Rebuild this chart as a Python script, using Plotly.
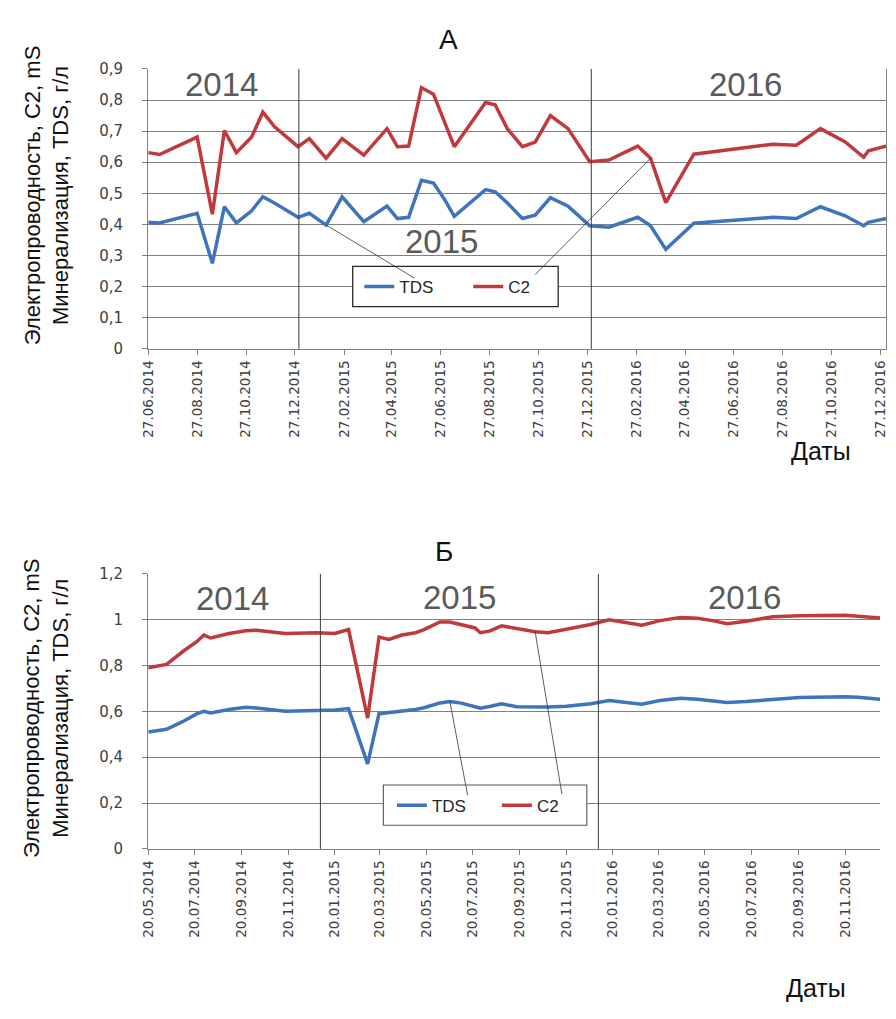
import plotly.graph_objects as go

# --- Panel А: 27.06.2014 - 2016 ---
dates_a = ["2014-06-27", "2014-07-11", "2014-08-27", "2014-09-15", "2014-09-30", "2014-10-15",
           "2014-11-03", "2014-11-17", "2014-12-02", "2014-12-31", "2015-01-14", "2015-02-04",
           "2015-02-24", "2015-03-23", "2015-04-21", "2015-05-04", "2015-05-18", "2015-06-03",
           "2015-06-18", "2015-07-02", "2015-07-14", "2015-08-22", "2015-09-03", "2015-09-18",
           "2015-10-07", "2015-10-23", "2015-11-11", "2015-12-03", "2015-12-30", "2016-01-23",
           "2016-02-28", "2016-03-15", "2016-04-03", "2016-05-08", "2016-08-15", "2016-09-13",
           "2016-10-13", "2016-11-13", "2016-12-06", "2016-12-12", "2017-01-03"]
tds_a = [0.407, 0.405, 0.436, 0.275, 0.457, 0.405, 0.444, 0.489, 0.468, 0.423, 0.436, 0.398,
         0.489, 0.409, 0.459, 0.419, 0.423, 0.542, 0.533, 0.480, 0.426, 0.512, 0.505, 0.470,
         0.419, 0.430, 0.486, 0.459, 0.396, 0.391, 0.423, 0.396, 0.320, 0.404, 0.423, 0.419,
         0.457, 0.428, 0.396, 0.407, 0.419]
c2_a = [0.631, 0.625, 0.681, 0.433, 0.702, 0.631, 0.681, 0.761, 0.713, 0.650, 0.676, 0.613,
        0.676, 0.623, 0.708, 0.650, 0.652, 0.840, 0.819, 0.729, 0.650, 0.792, 0.785, 0.708,
        0.650, 0.665, 0.750, 0.708, 0.602, 0.607, 0.652, 0.613, 0.470, 0.626, 0.658, 0.655,
        0.708, 0.665, 0.616, 0.637, 0.652]
ticks_a = ["27.06.2014", "27.08.2014", "27.10.2014", "27.12.2014", "27.02.2015", "27.04.2015",
           "27.06.2015", "27.08.2015", "27.10.2015", "27.12.2015", "27.02.2016", "27.04.2016",
           "27.06.2016", "27.08.2016", "27.10.2016", "27.12.2016"]

# --- Panel Б: 20.05.2014 - 2016 ---
dates_b = ["2014-05-20", "2014-06-13", "2014-07-04", "2014-07-23", "2014-08-01", "2014-08-10",
           "2014-09-03", "2014-09-25", "2014-10-09", "2014-11-16", "2014-12-27", "2015-01-20",
           "2015-02-07", "2015-03-04", "2015-03-19", "2015-04-01", "2015-04-18", "2015-05-06",
           "2015-05-17", "2015-06-07", "2015-06-20", "2015-07-05", "2015-07-23", "2015-07-30",
           "2015-08-11", "2015-08-27", "2015-09-16", "2015-10-10", "2015-10-27", "2015-11-20",
           "2015-12-22", "2016-01-15", "2016-02-03", "2016-02-27", "2016-03-22", "2016-04-18",
           "2016-05-10", "2016-05-30", "2016-06-18", "2016-07-13", "2016-08-17", "2016-09-21",
           "2016-11-20", "2016-12-07", "2017-01-05"]
tds_b = [0.510, 0.522, 0.555, 0.590, 0.600, 0.593, 0.608, 0.618, 0.615, 0.601, 0.604, 0.606,
         0.612, 0.371, 0.590, 0.594, 0.600, 0.608, 0.616, 0.637, 0.643, 0.636, 0.620, 0.614,
         0.621, 0.633, 0.620, 0.619, 0.619, 0.622, 0.633, 0.647, 0.639, 0.631, 0.647, 0.657,
         0.653, 0.645, 0.639, 0.643, 0.653, 0.661, 0.664, 0.662, 0.653]
c2_b = [0.790, 0.805, 0.860, 0.905, 0.933, 0.920, 0.940, 0.952, 0.954, 0.940, 0.943, 0.940,
        0.957, 0.571, 0.924, 0.914, 0.933, 0.943, 0.957, 0.990, 0.990, 0.979, 0.964, 0.943,
        0.950, 0.973, 0.960, 0.947, 0.943, 0.957, 0.979, 1.000, 0.990, 0.976, 0.996, 1.010,
        1.006, 0.996, 0.982, 0.993, 1.013, 1.017, 1.019, 1.014, 1.007]
ticks_b = ["20.05.2014", "20.07.2014", "20.09.2014", "20.11.2014", "20.01.2015", "20.03.2015",
           "20.05.2015", "20.07.2015", "20.09.2015", "20.11.2015", "20.01.2016", "20.03.2016",
           "20.05.2016", "20.07.2016", "20.09.2016", "20.11.2016"]

years = ["2014", "2015", "2016"]
year_bounds = ["2015-01-01", "2016-01-01"]
series_names = ["TDS", "C2"]
panel_titles = ["А", "Б"]
y_title = "Электропроводность, С2, mS<br>Минерализация, TDS, г/л"
x_title = "Даты"

BLUE = "#3E74BC"
RED = "#C03A3D"
GRID = "#808080"
TXT = "#404040"
YEAR = "#5a5a5a"
W, H = 896, 1019


def px(x):
    return x / W


def py(y):
    return 1 - y / H


def iso(d):
    dd, mm, yy = d.split(".")
    return f"{yy}-{mm}-{dd}"


fig = go.Figure()

fig.add_trace(go.Scatter(x=dates_a, y=tds_a, name=series_names[0], mode="lines",
                         line=dict(color=BLUE, width=3.5), xaxis="x", yaxis="y", legend="legend"))
fig.add_trace(go.Scatter(x=dates_a, y=c2_a, name=series_names[1], mode="lines",
                         line=dict(color=RED, width=3.5), xaxis="x", yaxis="y", legend="legend"))
fig.add_trace(go.Scatter(x=dates_b, y=tds_b, name=series_names[0], mode="lines",
                         line=dict(color=BLUE, width=3.5), xaxis="x2", yaxis="y2", legend="legend2"))
fig.add_trace(go.Scatter(x=dates_b, y=c2_b, name=series_names[1], mode="lines",
                         line=dict(color=RED, width=3.5), xaxis="x2", yaxis="y2", legend="legend2"))

xtick_font = dict(family="DejaVu Sans", size=13.5, color=TXT)
ytick_font = dict(family="DejaVu Sans", size=15, color=TXT)
common_x = dict(type="date", tickmode="array", tickangle=-90,
                showgrid=False, showline=True, linecolor=GRID, linewidth=1.3,
                ticks="outside", ticklen=5, tickcolor=GRID, tickfont=xtick_font, zeroline=False)
common_y = dict(showgrid=True, gridcolor=GRID, gridwidth=1.3, showline=True, linecolor=GRID,
                linewidth=1.3, ticks="outside", ticklen=5, tickcolor=GRID, tickfont=ytick_font,
                ticklabelstandoff=16, zeroline=False)

legend_font = dict(family="Liberation Sans Narrow, Liberation Sans", size=17, color="#262626")

fig.update_layout(
    width=W, height=H,
    margin=dict(l=0, r=0, t=0, b=0),
    paper_bgcolor="white", plot_bgcolor="white",
    separators=", ",
    font=dict(family="Liberation Sans", color="#222"),
    xaxis=dict(common_x, domain=[px(141), px(888)], anchor="y",
               range=[dates_a[0], dates_a[-1]],
               tickvals=[iso(t) for t in ticks_a], ticktext=ticks_a),
    yaxis=dict(common_y, domain=[py(346), py(61)], anchor="x", range=[0, 0.9], dtick=0.1,
               mirror=True),
    xaxis2=dict(common_x, domain=[px(141), px(882)], anchor="y2",
                range=[dates_b[0], dates_b[-1]],
                tickvals=[iso(t) for t in ticks_b], ticktext=ticks_b),
    yaxis2=dict(common_y, domain=[py(855), py(575)], anchor="x2", range=[0, 1.2], dtick=0.2),
    legend=dict(orientation="h", x=px(465), y=py(283), xanchor="center", yanchor="middle",
                bgcolor="rgba(0,0,0,0)", borderwidth=0, entrywidth=64, font=legend_font),
    legend2=dict(orientation="h", x=px(494), y=py(811), xanchor="center", yanchor="middle",
                 bgcolor="rgba(0,0,0,0)", borderwidth=0, entrywidth=60, font=legend_font),
)

shapes = []
# legend frames
shapes.append(dict(type="rect", xref="paper", yref="paper", x0=px(348), x1=px(556),
                   y0=py(303), y1=py(262), line=dict(color="#262626", width=1.3),
                   fillcolor="white", layer="above"))
shapes.append(dict(type="rect", xref="paper", yref="paper", x0=px(379), x1=px(585),
                   y0=py(831), y1=py(790), line=dict(color="#555", width=1.1),
                   fillcolor="white", layer="above"))
# year boundaries
for xa, ya in (("x", "y"), ("x2", "y2")):
    for d in year_bounds:
        shapes.append(dict(type="line", xref=xa, yref=ya + " domain", x0=d, x1=d, y0=0, y1=1,
                           line=dict(color="#3a3a3a", width=1)))
fig.update_layout(shapes=shapes)


def label(text, x, y, size, color="#111", angle=0):
    return dict(text=text, x=px(x), y=py(y), xref="paper", yref="paper", showarrow=False,
                xanchor="center", yanchor="middle", textangle=angle, align="center",
                font=dict(size=size, color=color))


ann = []
ann.append(label(panel_titles[0], 445, 31, 28))
ann.append(label(panel_titles[1], 440, 552, 28))
for yc in (190, 712):
    ann.append(label(y_title, 38, yc, 22, angle=-90))
ann.append(label(x_title, 822, 450, 25))
ann.append(label(x_title, 817, 997, 25))
year_pos_a = [(215, 77), (438, 237), (746, 77)]
year_pos_b = [(226, 600), (456, 599), (745, 599)]
for yr, (xx, yy) in zip(years, year_pos_a):
    ann.append(label(yr, xx, yy, 33, YEAR))
for yr, (xx, yy) in zip(years, year_pos_b):
    ann.append(label(yr, xx, yy, 33, YEAR))
# leader lines from legend labels to the curves
leaders = [("x", "y", dates_a, tds_a, 11, 90, 54),
           ("x", "y", dates_a, c2_a, 31, -117, 118),
           ("x2", "y2", dates_b, tds_b, 20, 18, 95),
           ("x2", "y2", dates_b, c2_b, 27, 27, 164)]
for xa, ya, ds, vs, i, ax, ay in leaders:
    ann.append(dict(x=ds[i], y=vs[i], xref=xa, yref=ya, text="", showarrow=True, arrowhead=0,
                    arrowwidth=0.8, arrowcolor="#333", ax=ax, ay=ay))
fig.update_layout(annotations=ann)

fig.write_html("out.html")
